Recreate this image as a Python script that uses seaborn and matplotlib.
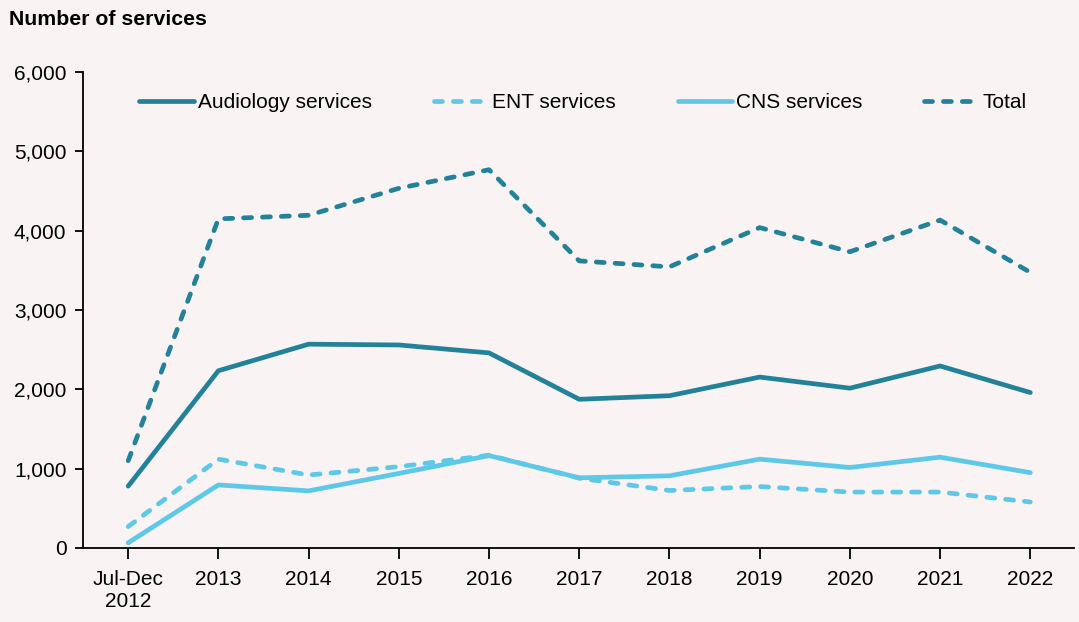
import numpy as np
import pandas as pd
import matplotlib
matplotlib.use("Agg")
import matplotlib.pyplot as plt
from matplotlib.ticker import FuncFormatter
import seaborn as sns

# Data
periods = ["Jul-Dec\n2012", "2013", "2014", "2015", "2016", "2017",
           "2018", "2019", "2020", "2021", "2022"]
audiology = [780, 2235, 2570, 2560, 2460, 1875, 1920, 2155, 2015, 2295, 1960]
ent = [270, 1120, 920, 1025, 1170, 880, 725, 775, 705, 705, 580]
cns = [65, 795, 720, 940, 1165, 885, 910, 1120, 1015, 1145, 950]
total = [1100, 4150, 4195, 4535, 4770, 3620, 3545, 4040, 3735, 4135, 3475]

series_names = ["Audiology services", "ENT services", "CNS services", "Total"]

dark = "#23829A"
light = "#5EC8E8"
bg = "#F9F3F3"

df = pd.DataFrame({
    "x": list(range(len(periods))) * 4,
    "value": audiology + ent + cns + total,
    "series": np.repeat(series_names, len(periods)),
})

sns.set_style("ticks")
plt.rcParams["font.family"] = ["Liberation Sans", "DejaVu Sans"]
plt.rcParams["text.color"] = "black"

fig = plt.figure(figsize=(10.79, 6.22), dpi=100, facecolor=bg)
ax = fig.add_axes([0.077, 0.119, 0.918, 0.765])
ax.set_facecolor(bg)

lw = 3.4
dash = (0, (1.7, 2.3))
line_specs = [
    ("Audiology services", dark, "-"),
    ("ENT services", light, dash),
    ("CNS services", light, "-"),
    ("Total", dark, dash),
]

for name, color, ls in line_specs:
    sub = df[df["series"] == name]
    sns.lineplot(data=sub, x="x", y="value", ax=ax, color=color,
                 linewidth=lw, linestyle=ls, label=name,
                 solid_capstyle="round", dash_capstyle="round")

ax.set_xlim(-0.5, 10.48)
ax.set_ylim(0, 6000)
ax.set_yticks(range(0, 6001, 1000))
ax.yaxis.set_major_formatter(FuncFormatter(lambda v, p: f"{int(v):,}"))
ax.set_xticks(range(len(periods)))
ax.set_xticklabels(periods)
ax.set_xlabel("")
ax.set_ylabel("")

for side in ["top", "right"]:
    ax.spines[side].set_visible(False)
for side in ["left", "bottom"]:
    ax.spines[side].set_color("black")
    ax.spines[side].set_linewidth(1.3)

ax.tick_params(axis="x", direction="out", length=8, width=1.3,
               labelsize=15, pad=8, colors="black")
ax.tick_params(axis="y", direction="out", length=6, width=1.3,
               labelsize=15, pad=6, colors="black")

leg = ax.legend(loc="upper left", bbox_to_anchor=(0.038, 0.995), ncol=4,
                frameon=False, fontsize=15, handlelength=2.6,
                handletextpad=0.2, columnspacing=2.97)
for t in leg.get_texts():
    t.set_color("black")

fig.text(0.008, 0.968, "Number of services", fontsize=15.3,
         fontweight="bold", ha="left", va="center", color="black")

fig.savefig("out.png", dpi=100, facecolor=bg)
